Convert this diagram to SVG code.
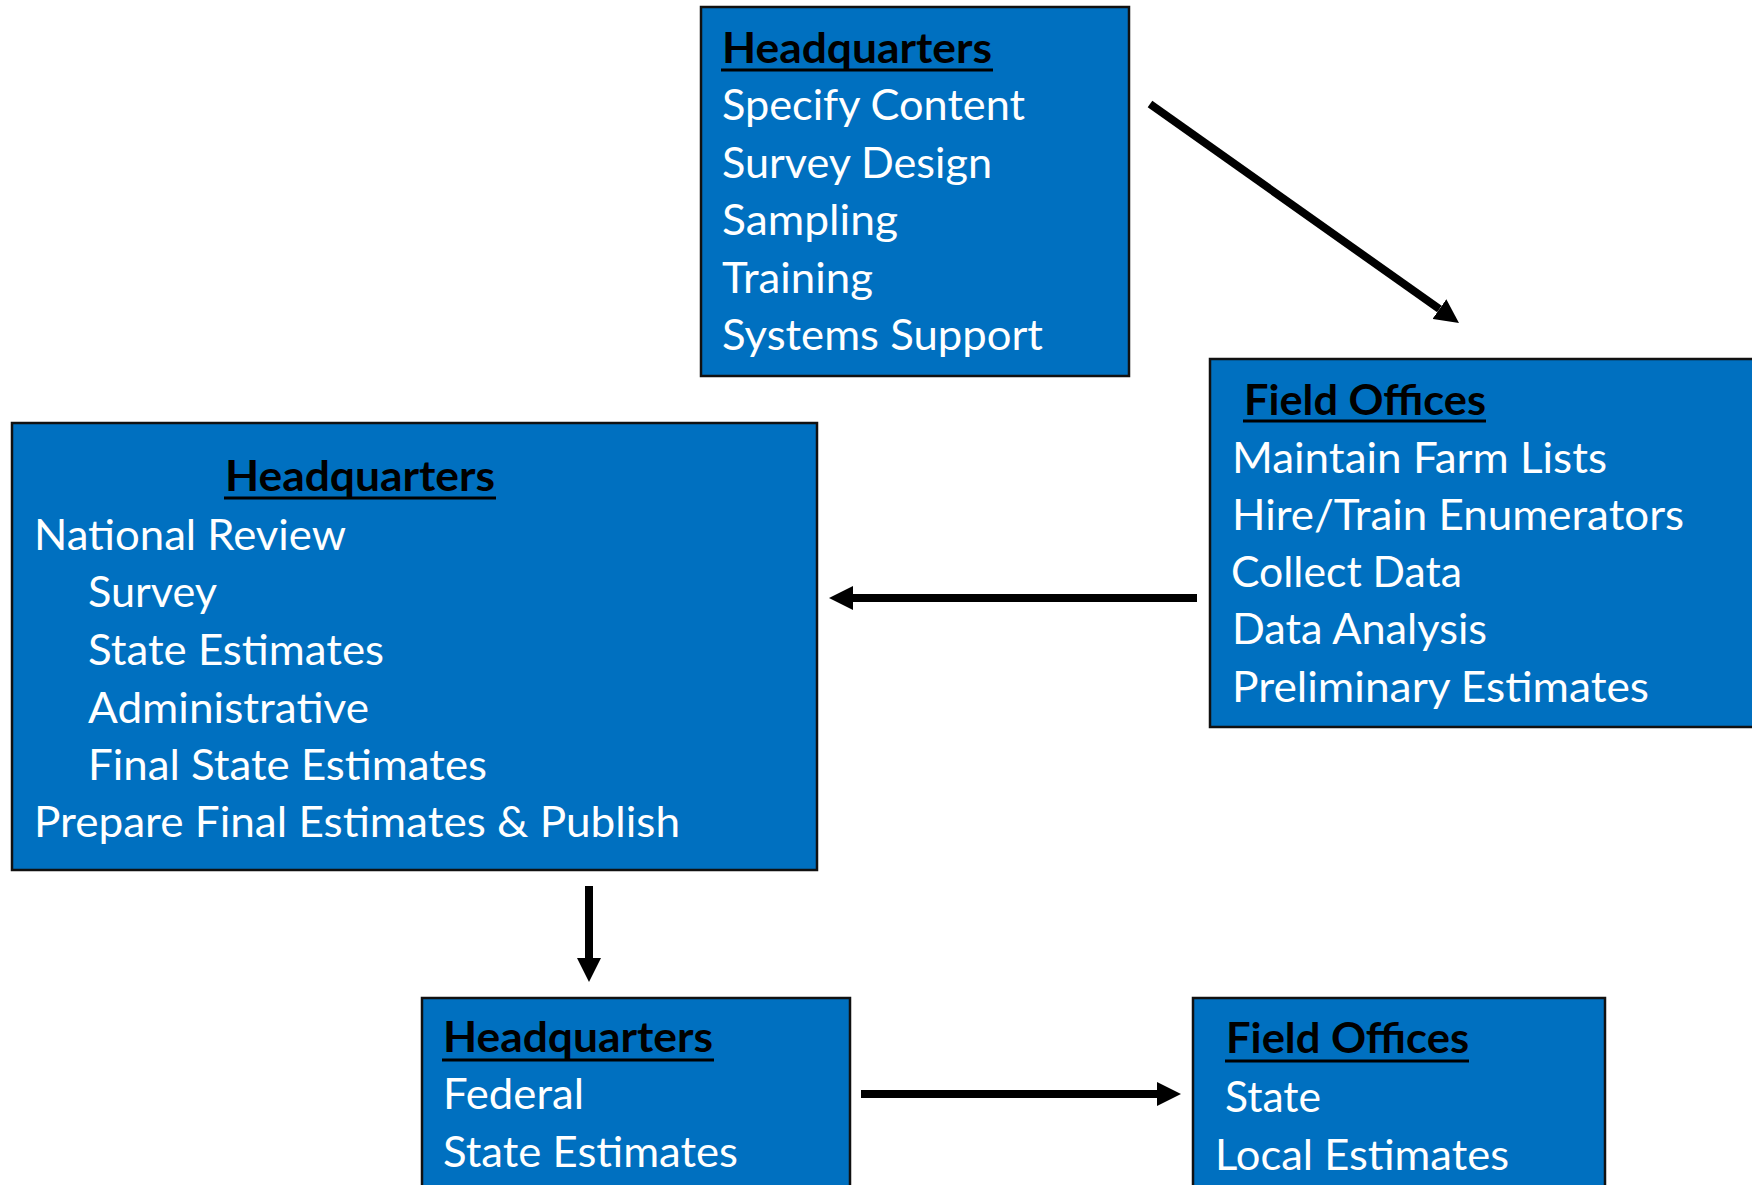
<svg xmlns="http://www.w3.org/2000/svg" width="1752" height="1185" viewBox="0 0 1752 1185">
<style>
.box{fill:#0070C0;stroke:#111;stroke-width:2.5}
.hd{font-family:Lato,"Open Sans","Liberation Sans",sans-serif;font-weight:700;font-size:42px;fill:#000}
.it{font-family:Lato,"Open Sans","Liberation Sans",sans-serif;font-size:42px;fill:#fff}
.ul{stroke:#000;stroke-width:2.8}
.cn{stroke:#000;stroke-width:8;fill:none;marker-end:url(#ah)}
</style>
<defs>
<marker id="ah" viewBox="0 0 10 10" markerWidth="3" markerHeight="3" refX="0" refY="5" orient="auto" markerUnits="strokeWidth">
<path d="M0,0 L10,5 L0,10 Z" fill="#000"/>
</marker>
</defs>
<rect width="1752" height="1185" fill="#fff"/>
<g id="hq-top">
<rect class="box" x="701" y="7" width="428" height="369"/>
<text class="hd" x="722" y="63" textLength="270" lengthAdjust="spacingAndGlyphs">Headquarters</text>
<line class="ul" x1="721" y1="70" x2="993" y2="70"/>
<text class="it" x="722" y="120" textLength="303" lengthAdjust="spacingAndGlyphs">Specify Content</text>
<text class="it" x="722" y="178" textLength="270" lengthAdjust="spacingAndGlyphs">Survey Design</text>
<text class="it" x="722" y="235" textLength="176" lengthAdjust="spacingAndGlyphs">Sampling</text>
<text class="it" x="722" y="293" textLength="151" lengthAdjust="spacingAndGlyphs">Training</text>
<text class="it" x="722" y="350" textLength="321" lengthAdjust="spacingAndGlyphs">Systems Support</text>
</g>
<g id="field-top">
<rect class="box" x="1210" y="359" width="600" height="368"/>
<text class="hd" x="1244" y="415" textLength="242" lengthAdjust="spacingAndGlyphs">Field Offices</text>
<line class="ul" x1="1243" y1="421" x2="1486" y2="421"/>
<text class="it" x="1232" y="473" textLength="375" lengthAdjust="spacingAndGlyphs">Maintain Farm Lists</text>
<text class="it" x="1232" y="530" textLength="452" lengthAdjust="spacingAndGlyphs">Hire/Train Enumerators</text>
<text class="it" x="1231" y="587" textLength="231" lengthAdjust="spacingAndGlyphs">Collect Data</text>
<text class="it" x="1232" y="644" textLength="255" lengthAdjust="spacingAndGlyphs">Data Analysis</text>
<text class="it" x="1232" y="702" textLength="417" lengthAdjust="spacingAndGlyphs">Preliminary Estimates</text>
</g>
<g id="hq-review">
<rect class="box" x="12" y="423" width="805" height="447"/>
<text class="hd" x="225" y="491" textLength="270" lengthAdjust="spacingAndGlyphs">Headquarters</text>
<line class="ul" x1="224" y1="498" x2="496" y2="498"/>
<text class="it" x="34" y="550" textLength="312" lengthAdjust="spacingAndGlyphs">National Review</text>
<text class="it" x="88" y="607" textLength="129" lengthAdjust="spacingAndGlyphs">Survey</text>
<text class="it" x="88" y="665" textLength="296" lengthAdjust="spacingAndGlyphs">State Estimates</text>
<text class="it" x="88" y="723" textLength="281" lengthAdjust="spacingAndGlyphs">Administrative</text>
<text class="it" x="88" y="780" textLength="399" lengthAdjust="spacingAndGlyphs">Final State Estimates</text>
<text class="it" x="34" y="837" textLength="646" lengthAdjust="spacingAndGlyphs">Prepare Final Estimates &amp; Publish</text>
</g>
<g id="hq-bottom">
<rect class="box" x="422" y="998" width="428" height="300"/>
<text class="hd" x="443" y="1052" textLength="270" lengthAdjust="spacingAndGlyphs">Headquarters</text>
<line class="ul" x1="442" y1="1060" x2="714" y2="1060"/>
<text class="it" x="443" y="1109" textLength="141" lengthAdjust="spacingAndGlyphs">Federal</text>
<text class="it" x="443" y="1167" textLength="295" lengthAdjust="spacingAndGlyphs">State Estimates</text>
</g>
<g id="field-bottom">
<rect class="box" x="1193" y="998" width="412" height="300"/>
<text class="hd" x="1226" y="1053" textLength="243" lengthAdjust="spacingAndGlyphs">Field Offices</text>
<line class="ul" x1="1225" y1="1061" x2="1469" y2="1061"/>
<text class="it" x="1225" y="1112" textLength="96" lengthAdjust="spacingAndGlyphs">State</text>
<text class="it" x="1215" y="1170" textLength="294" lengthAdjust="spacingAndGlyphs">Local Estimates</text>
</g>
<g id="connectors">
<line class="cn" x1="1150" y1="104" x2="1439.4" y2="309.1"/>
<line class="cn" x1="1197" y1="598" x2="853" y2="598"/>
<line class="cn" x1="589" y1="886" x2="589" y2="958"/>
<line class="cn" x1="861" y1="1094" x2="1157" y2="1094"/>
</g>
</svg>
